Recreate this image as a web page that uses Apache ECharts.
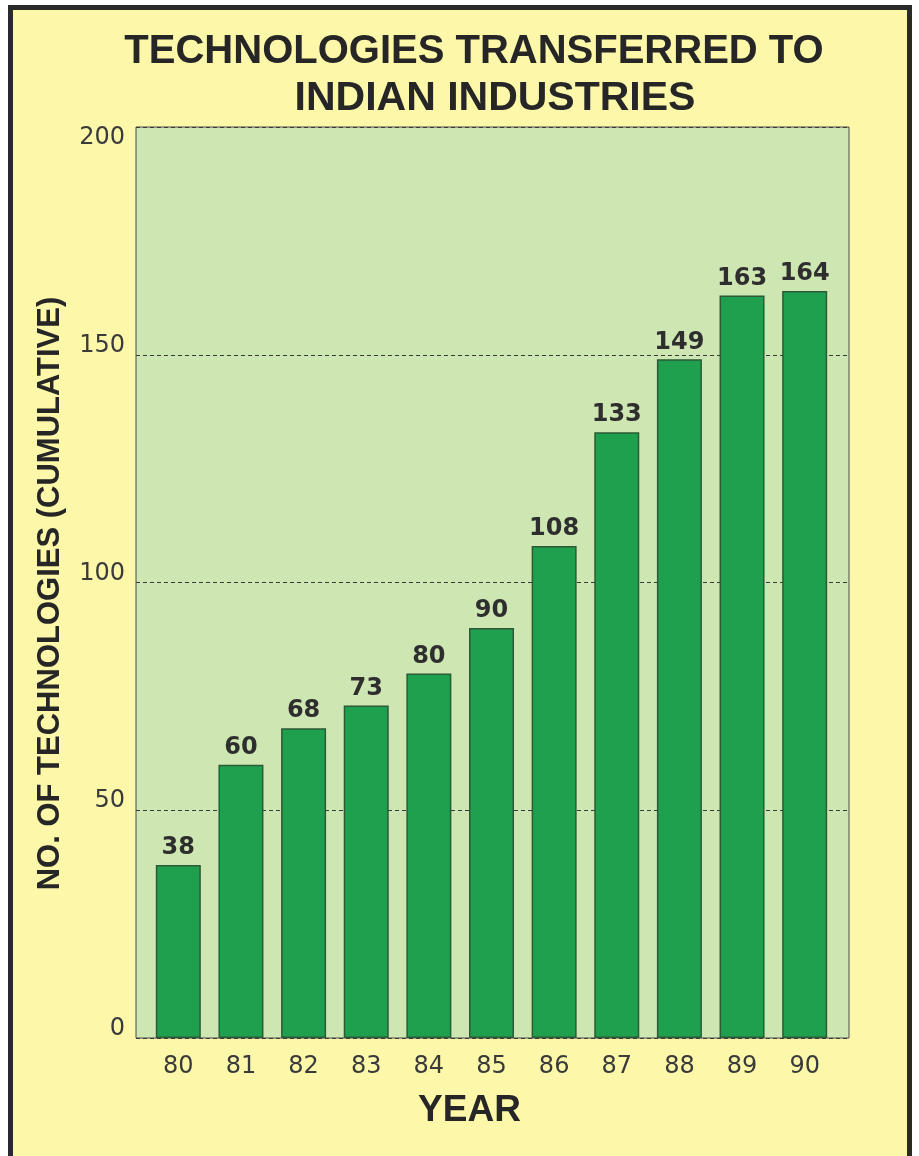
<!DOCTYPE html>
<html>
<head>
<meta charset="utf-8">
<script src="https://cdn.jsdelivr.net/npm/echarts@6/dist/echarts.min.js"></script>
<style>
  html, body { margin: 0; padding: 0; background: #ffffff; }
  #panel { position: absolute; left: 8px; top: 5px; width: 904px; height: 1170px;
           box-sizing: border-box; border: 5px solid #2a2a2a; background: #fcf7a9; }
  #chart { position: absolute; left: 0; top: 0; width: 919px; height: 1156px; }
</style>
</head>
<body>
<div id="panel"></div>
<div id="chart"></div>
<script>
const years = ['80', '81', '82', '83', '84', '85', '86', '87', '88', '89', '90'];
const technologies = [38, 60, 68, 73, 80, 90, 108, 133, 149, 163, 164];
const yTicks = [0, 50, 100, 150, 200];
const titleLine1 = 'TECHNOLOGIES TRANSFERRED TO';
const titleLine2 = 'INDIAN INDUSTRIES';
const yAxisTitle = 'NO. OF TECHNOLOGIES (CUMULATIVE)';
const xAxisTitle = 'YEAR';

const chart = echarts.init(document.getElementById('chart'), null, { renderer: 'canvas' });
const TOP = 127, BOTTOM = 1156 - 1038;
const tickFont = { fontFamily: 'DejaVu Sans', fontSize: 24, color: '#3a3a3a' };
chart.setOption({
  backgroundColor: 'transparent',
  animation: false,
  title: [
    { text: titleLine1, left: 469, top: 27, textAlign: 'center',
      textStyle: { fontFamily: 'Liberation Sans', fontWeight: 'bold', fontSize: 40, color: '#262626' } },
    { text: titleLine2, left: 490, top: 73, textAlign: 'center',
      textStyle: { fontFamily: 'Liberation Sans', fontWeight: 'bold', fontSize: 41, color: '#262626' } }
  ],
  grid: [
    { left: 136, right: 919 - 849, top: TOP, bottom: BOTTOM, show: true,
      backgroundColor: '#cde6b2', borderColor: '#4a4a4a', borderWidth: 1 },
    { left: 147, right: 919 - 836, top: TOP, bottom: BOTTOM }
  ],
  xAxis: [
    { gridIndex: 0, type: 'value', show: false, min: 0, max: 1 },
    { gridIndex: 1, type: 'category', data: years,
      axisLine: { show: false }, axisTick: { show: false },
      axisLabel: Object.assign({ margin: 17 }, tickFont),
      name: xAxisTitle, nameLocation: 'middle', nameGap: 54,
      nameTextStyle: { fontFamily: 'Liberation Sans', fontWeight: 'bold', fontSize: 37, color: '#262626',
        verticalAlign: 'top', padding: [0, 44, 0, 0] } }
  ],
  yAxis: [
    { gridIndex: 0, type: 'value', min: yTicks[0], max: yTicks[yTicks.length - 1], interval: 50,
      axisLine: { show: false }, axisTick: { show: false },
      axisLabel: { margin: 11,
        formatter: v => !yTicks.includes(v) ? '' : (v === yTicks[yTicks.length - 1] ? '{top|' + v + '}' : '{up|' + v + '}'),
        rich: {
          top: Object.assign({ padding: [22, 0, 0, 0] }, tickFont),
          up: Object.assign({ padding: [0, 0, 18, 0] }, tickFont)
        } },
      splitLine: { show: true, lineStyle: { color: '#3a3a3a', type: [4, 3], width: 1 } },
      name: yAxisTitle, nameLocation: 'middle', nameGap: 70, nameRotate: 90,
      nameTextStyle: { fontFamily: 'Liberation Sans', fontWeight: 'bold', fontSize: 31, color: '#262626',
        padding: [0, 22, 0, 0] } },
    { gridIndex: 1, type: 'value', min: 0, max: 200, show: false, splitLine: { show: false } }
  ],
  series: [{
    type: 'bar', xAxisIndex: 1, yAxisIndex: 1,
    data: technologies, barWidth: 45,
    itemStyle: { color: '#1fa04f', borderColor: '#2c5a36', borderWidth: 1.5 },
    label: { show: true, position: 'top', distance: 5,
      fontFamily: 'DejaVu Sans', fontWeight: 'bold', fontSize: 24, color: '#2e2e2e' }
  }]
});
</script>
</body>
</html>
